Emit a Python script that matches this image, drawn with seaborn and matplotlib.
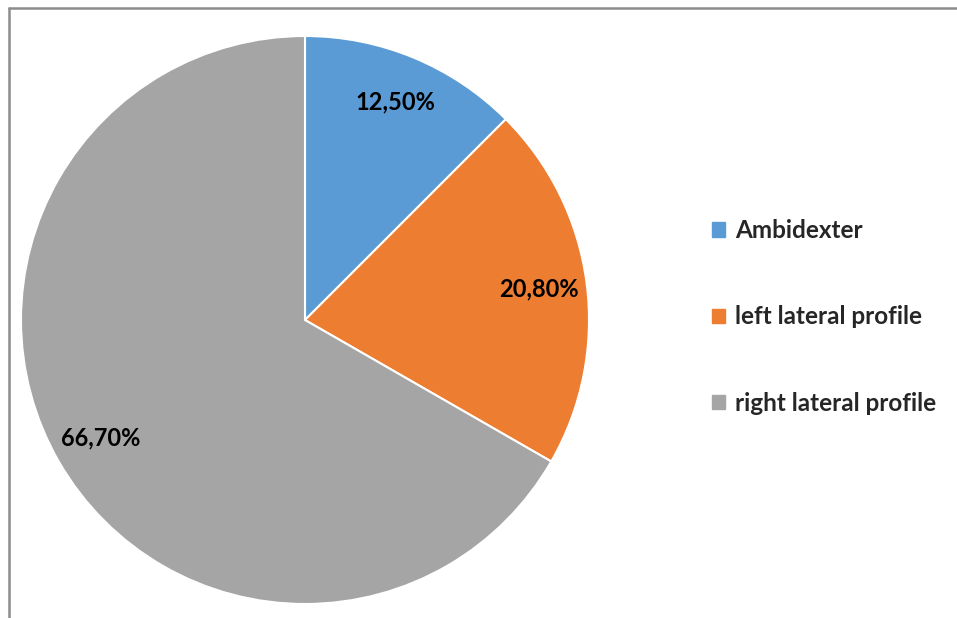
import matplotlib.pyplot as plt
import matplotlib.lines as mlines
import matplotlib.patches as mpatches
import seaborn as sns

# data
categories = ["Ambidexter", "left lateral profile", "right lateral profile"]
shares = [12.5, 20.8, 66.7]
colors = ["#5B9BD5", "#ED7D31", "#A5A5A5"]

sns.set_theme(style="white")
plt.rcParams['font.family'] = ['Lato', 'DejaVu Sans']

W, H = 957, 618
fig = plt.figure(figsize=(W / 100, H / 100), dpi=100)

# pie axes: centre (305, 320) px, radius 284 px
cx, cy, r = 305, 320, 284
ax = fig.add_axes([(cx - r) / W, (H - cy - r) / H, 2 * r / W, 2 * r / H])

wedges, texts, autotexts = ax.pie(
    shares, colors=colors, startangle=90, counterclock=False,
    autopct=lambda p: f"{p:.2f}%".replace('.', ','), pctdistance=0.83,
    wedgeprops=dict(edgecolor="white", linewidth=1.5),
    textprops=dict(fontsize=17, fontweight="bold", color="black"))
ax.set_xlim(-1, 1)
ax.set_ylim(-1, 1)
ax.set_aspect("equal")
ax.axis("off")

handles = [mpatches.Patch(color=c, label=l) for c, l in zip(colors, categories)]
fig.legend(handles=handles, loc="center left", bbox_to_anchor=(690 / W, 1 - 317 / H),
           frameon=False, prop=dict(size=17.5, weight="bold"),
           handlelength=0.55, handleheight=0.55, handletextpad=0.4,
           labelspacing=2.6)

# frame lines (top and left only)
fig.add_artist(mlines.Line2D([8.5 / W, 1], [1 - 7.5 / H, 1 - 7.5 / H], color="#8c8c8c", lw=1.8))
fig.add_artist(mlines.Line2D([8.5 / W, 8.5 / W], [0, 1 - 7.5 / H], color="#8c8c8c", lw=1.8))

fig.savefig("out.png", dpi=100, facecolor="white")
